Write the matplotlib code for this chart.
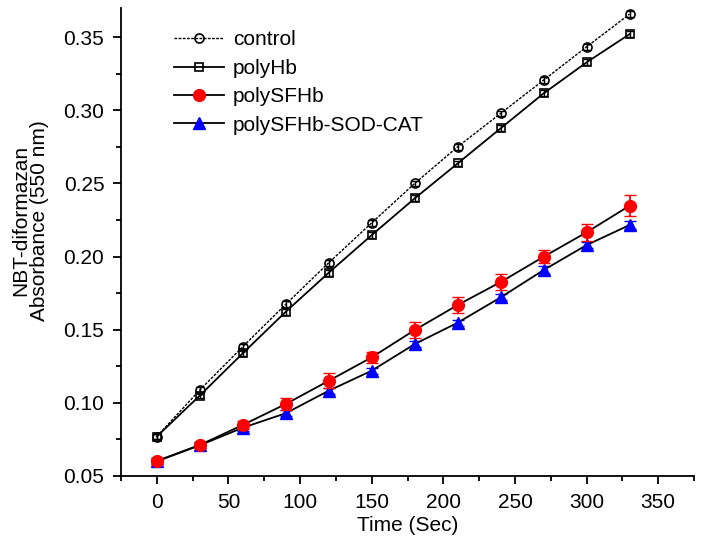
import numpy as np
import matplotlib
matplotlib.use("Agg")
import matplotlib.pyplot as plt
from matplotlib.ticker import MultipleLocator

plt.rcParams['font.family'] = ['Liberation Sans', 'DejaVu Sans']

# time points (s)
time = [0, 30, 60, 90, 120, 150, 180, 210, 240, 270, 300, 330]

# absorbance readings
control = [0.077, 0.1088, 0.1384, 0.1674, 0.1958, 0.2231, 0.2500, 0.2751, 0.2979, 0.3207, 0.3434, 0.3658]
polyhb = [0.077, 0.1050, 0.1339, 0.1623, 0.1890, 0.2147, 0.2398, 0.2637, 0.2877, 0.3116, 0.3328, 0.3521]
polysfhb = [0.0603, 0.0712, 0.0849, 0.0992, 0.1151, 0.1311, 0.1498, 0.1669, 0.1826, 0.1999, 0.2166, 0.2348]
sodcat = [0.0600, 0.0710, 0.0830, 0.0929, 0.1083, 0.1220, 0.1402, 0.1548, 0.1721, 0.1908, 0.2079, 0.2216]

# error bars (SD)
control_err = [0.002, 0.002, 0.002, 0.002, 0.002, 0.002, 0.002, 0.002, 0.002, 0.002, 0.002, 0.002]
polyhb_err = [0.002, 0.002, 0.002, 0.002, 0.002, 0.002, 0.002, 0.002, 0.002, 0.002, 0.002, 0.002]
polysfhb_err = [0.002, 0.002, 0.003, 0.004, 0.005, 0.004, 0.0055, 0.0057, 0.0053, 0.0046, 0.006, 0.0073]
sodcat_err = [0.002, 0.002, 0.002, 0.002, 0.002, 0.002, 0.002, 0.002, 0.002, 0.003, 0.002, 0.003]

fig = plt.figure(figsize=(7.04, 5.47), dpi=100)
ax = fig.add_axes([0.1719, 0.1298, 0.8139, 0.8556])

# error bars first (no labels)
ax.errorbar(time, control, yerr=control_err, fmt='none', ecolor='black', elinewidth=1, capsize=3, zorder=2)
ax.errorbar(time, polyhb, yerr=polyhb_err, fmt='none', ecolor='black', elinewidth=1, capsize=3, zorder=2)
ax.errorbar(time, sodcat, yerr=sodcat_err, fmt='none', ecolor='blue', elinewidth=1.3, capsize=4, zorder=3)
ax.errorbar(time, polysfhb, yerr=polysfhb_err, fmt='none', ecolor='red', elinewidth=1.3, capsize=4, zorder=5)

# lines + markers
ax.plot(time, control, color='black', lw=1, ls=(0, (2, 1)), marker='o', ms=6.5,
        mfc='none', mec='black', mew=1.2, label='control', zorder=4)
ax.plot(time, polyhb, color='black', lw=1.3, marker='s', ms=6,
        mfc='none', mec='black', mew=1.2, label='polyHb', zorder=4)
ax.plot(time, sodcat, color='black', lw=1.3, marker='^', ms=9,
        mfc='blue', mec='blue', label='polySFHb-SOD-CAT', zorder=4)
ax.plot(time, polysfhb, color='black', lw=1.3, marker='o', ms=8.5,
        mfc='red', mec='red', label='polySFHb', zorder=6)

handles, labels = ax.get_legend_handles_labels()
order = [0, 1, 3, 2]
ax.legend([handles[i] for i in order], [labels[i] for i in order],
          loc='upper left', bbox_to_anchor=(0.059, 0.992), frameon=False,
          fontsize=15, handlelength=2.4, handletextpad=0.45, labelspacing=0.45)

ax.set_xlim(-25, 375)
ax.set_ylim(0.05, 0.37)
ax.xaxis.set_major_locator(MultipleLocator(50))
ax.xaxis.set_minor_locator(MultipleLocator(25))
ax.yaxis.set_major_locator(MultipleLocator(0.05))
ax.yaxis.set_minor_locator(MultipleLocator(0.025))
ax.yaxis.set_major_formatter(plt.FormatStrFormatter('%.2f'))

for s in ('top', 'right'):
    ax.spines[s].set_visible(False)
for s in ('left', 'bottom'):
    ax.spines[s].set_linewidth(1.3)

ax.tick_params(which='major', direction='out', length=6, width=1.3, labelsize=15, pad=6)
ax.tick_params(which='minor', direction='out', length=3.5, width=1.3)

ax.set_xlabel('Time (Sec)', fontsize=15, labelpad=3)
ax.set_ylabel('NBT-diformazan\nAbsorbance (550 nm)', fontsize=15, linespacing=1.0)
ax.yaxis.set_label_coords(-0.125, 0.545)

fig.savefig('out.png', dpi=100)
